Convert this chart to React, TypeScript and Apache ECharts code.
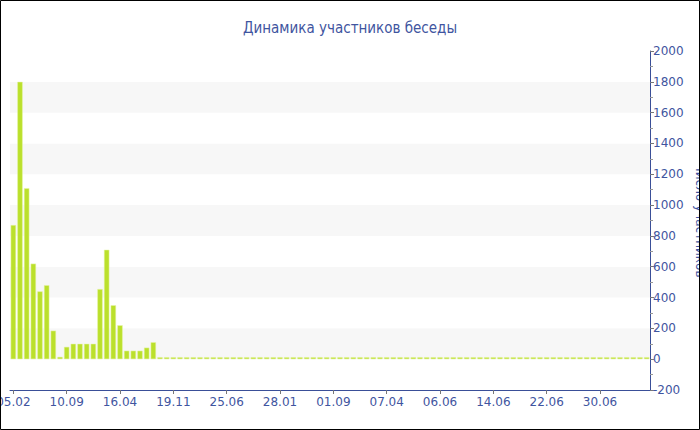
import React, { useEffect, useRef } from "react";
import * as echarts from "echarts";

const TITLE = "Динамика участников беседы";
const Y_NAME = "Число участников";
const TICK_LABELS = ["05.02", "10.09", "16.04", "19.11", "25.06", "28.01", "01.09", "07.04", "06.06", "14.06", "22.06", "30.06"];
const TICK_STEP = 8;
const CATEGORY_COUNT = 96;
const PARTICIPANTS = [
  870, 1800, 1110, 620, 440, 480, 185, 15, 80, 100, 100, 100, 100, 455, 710, 350, 220, 55, 55, 55, 75, 110,
  0, 0, 0, 0, 0, 0, 0, 0, 0, 0, 0, 0, 0, 0, 0, 0, 0, 0, 0, 0, 0, 0, 0, 0, 0, 0, 0, 0, 0, 0, 0, 0, 0, 0, 0, 0,
  0, 0, 0, 0, 0, 0, 0, 0, 0, 0, 0, 0, 0, 0, 0, 0, 0, 0, 0, 0, 0, 0, 0, 0, 0, 0, 0, 0, 0, 0, 0, 0, 0, 0, 0, 0,
  0, 0,
];

const TEXT_BLUE = "#3f55a0";
const AXIS_BLUE = "#3a4f98";
const BAR_GREEN = "#bbe02c";
const LABEL_FONT = "DejaVu Sans, Verdana, sans-serif";

export default function App() {
  const ref = useRef<HTMLDivElement>(null);
  useEffect(() => {
    if (!ref.current) return;
    const chart = echarts.init(ref.current, undefined, { renderer: "svg" });
    const categories: string[] = [];
    for (let i = 0; i < CATEGORY_COUNT; i++) {
      categories.push(i % TICK_STEP === 0 ? TICK_LABELS[i / TICK_STEP] ?? "" : "d" + i);
    }
    chart.setOption({
      animation: false,
      backgroundColor: "#ffffff",
      title: {
        text: TITLE,
        left: "center",
        top: 15,
        textStyle: {
          color: TEXT_BLUE,
          fontSize: 15,
          fontWeight: "normal",
          fontFamily: "DejaVu Sans Condensed, Liberation Sans, sans-serif",
        },
      },
      graphic: [
        {
          type: "rect",
          shape: { x: 0.5, y: 0.5, width: 699, height: 429 },
          style: { fill: "none", stroke: "#000", lineWidth: 1 },
          silent: true,
          z: 100,
        },
      ],
      grid: { left: 10, right: 50, top: 51, bottom: 40, containLabel: false, outerBoundsMode: "none" },
      xAxis: {
        type: "category",
        data: categories,
        boundaryGap: true,
        axisLine: { onZero: false, lineStyle: { color: AXIS_BLUE, width: 1 } },
        axisTick: { show: true, alignWithLabel: true, interval: TICK_STEP - 1, length: 4, lineStyle: { color: "#777" } },
        axisLabel: {
          interval: TICK_STEP - 1,
          color: TEXT_BLUE,
          fontSize: 12,
          fontFamily: LABEL_FONT,
          margin: 6,
          formatter: (v: string, i: number) => (i % TICK_STEP === 0 ? v : ""),
        },
        splitLine: { show: false },
      },
      yAxis: {
        type: "value",
        position: "right",
        min: -200,
        max: 2000,
        interval: 200,
        name: Y_NAME,
        nameLocation: "middle",
        nameRotate: -90,
        nameGap: 44,
        nameTextStyle: { color: TEXT_BLUE, fontSize: 12, fontFamily: LABEL_FONT },
        axisLine: { show: true, lineStyle: { color: AXIS_BLUE, width: 1 } },
        axisTick: { show: true, length: 4, lineStyle: { color: "#777" } },
        minorTick: { show: true, splitNumber: 2, length: 3, lineStyle: { color: "#999" } },
        axisLabel: { color: TEXT_BLUE, fontSize: 12, fontFamily: LABEL_FONT, margin: 3, formatter: (v: number) => String(v) },
        splitLine: { show: false },
        splitArea: { show: true, areaStyle: { color: ["#ffffff", "#f7f7f7"] } },
      },
      series: [
        {
          type: "bar",
          data: PARTICIPANTS,
          barCategoryGap: "20%",
          barMinHeight: 2,
          itemStyle: { color: BAR_GREEN, borderColor: "#e6f5a8", borderWidth: 0.5 },
        },
      ],
    });
    return () => chart.dispose();
  }, []);
  return <div ref={ref} style={{ position: "fixed", left: 0, top: 0, width: 700, height: 430 }} />;
}
